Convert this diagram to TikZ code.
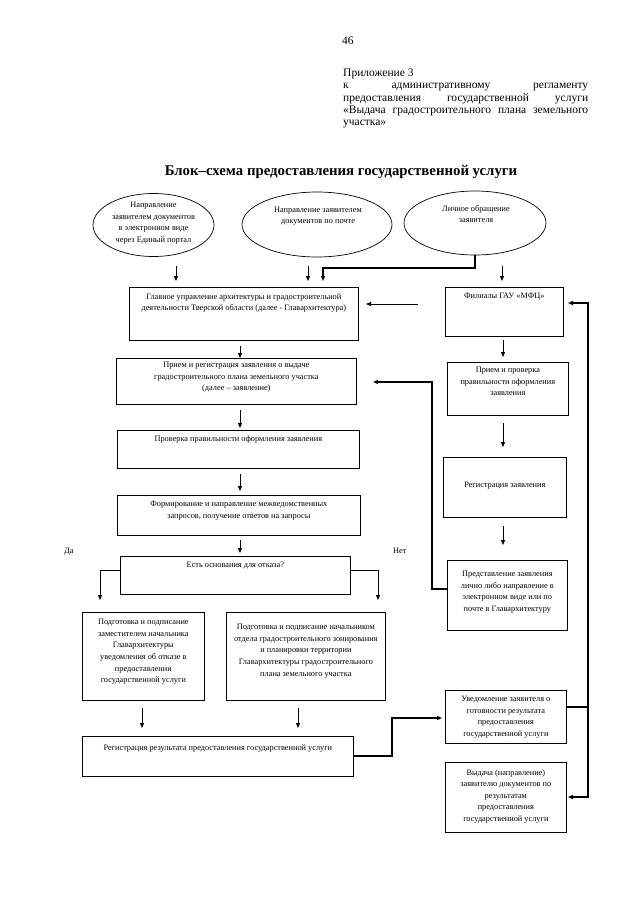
\documentclass[tikz,border=0pt]{standalone}
\usepackage{fontspec}
\setmainfont{Liberation Serif}
\usetikzlibrary{shapes.geometric,arrows.meta}
\newcommand{\bx}[4]{\parbox[t][#2pt][t]{#1pt}{\vspace*{#3pt}\centering\fontsize{8.3}{11.6}\selectfont #4\par}}
\newcommand{\hdr}{\fontsize{11.5}{12.3}\selectfont}
\begin{document}
\begin{tikzpicture}[x=1pt,y=-1pt,
  box/.style={draw, line width=0.7pt, inner sep=0pt, anchor=north west},
  ell/.style={draw, ellipse, line width=0.7pt, inner sep=0pt},
  txt/.style={inner sep=0pt, align=center, font=\fontsize{8.3}{11.6}\selectfont},
  hd/.style={inner sep=0pt, anchor=base west, font=\hdr},
  arr/.style={line width=0.8pt, -{Triangle[length=5pt,width=4pt]}},
  conn/.style={line width=1.2pt, -{Triangle[length=5pt,width=4pt]}},
  plainline/.style={line width=1.2pt}
  ]
\useasboundingbox[fill=white] (0,0) rectangle (640,905);

% header
\node[hd] (pg) at (342,44) {46};
\node[hd] (ap1) at (343,76) {Приложение 3};
\node[hd] (ap2) at (343,88) {\makebox[245pt][s]{к административному регламенту}};
\node[hd] (ap3) at (343,101) {\makebox[245pt][s]{предоставления государственной услуги}};
\node[hd] (ap4) at (343,113) {\makebox[245pt][s]{«Выдача градостроительного плана земельного}};
\node[hd] (ap5) at (343,125) {участка»};

\node[inner sep=0pt, anchor=base, font=\bfseries\fontsize{14.8}{16}\selectfont] (title) at (341,175) {Блок–схема предоставления государственной услуги};

% ellipses
\node[ell, minimum width=121pt, minimum height=63pt] (E1) at (153.5,225) {};
\node[txt] (E1t) at (153.5,223) {Направление\\заявителем документов\\в электронном виде\\через Единый портал};
\node[ell, minimum width=150pt, minimum height=65pt] (E2) at (317,224.5) {};
\node[txt] (E2t) at (318,216) {Направление заявителем\\документов по почте};
\node[ell, minimum width=142pt, minimum height=64pt] (E3) at (475,223) {};
\node[txt] (E3t) at (476,214) {Личное обращение\\заявителя};

% left column
\node[box] (G) at (129,287) {\bx{229}{53}{6}{Главное управление архитектуры и градостроительной\\деятельности Тверской области (далее - Главархитектура)}};
\node[box] (R1) at (116,358) {\bx{240}{46}{4}{Прием и регистрация заявления о выдаче\\градостроительного плана земельного участка\\(далее – заявление)}};
\node[box] (P) at (117,430) {\bx{242}{38}{5}{Проверка правильности оформления заявления}};
\node[box] (Fm) at (117,495) {\bx{243}{40}{6}{Формирование и направление межведомственных\\запросов, получение ответов на запросы}};
\node[box] (Q) at (120,556) {\bx{230}{38}{6}{Есть основания для отказа?}};
\node[box] (L) at (82,612) {\bx{122}{88}{7}{Подготовка и подписание\\заместителем начальника\\Главархитектуры\\уведомления об отказе в\\предоставлении\\государственной услуги}};
\node[box] (Rb) at (226,612) {\bx{159}{88}{12}{Подготовка и подписание начальником\\отдела градостроительного зонирования\\и планировки территории\\Главархитектуры градостроительного\\плана земельного участка}};
\node[box] (RR) at (82,736) {\bx{271}{40}{8}{Регистрация результата предоставления государственной услуги}};

\node[txt, anchor=base west] (da) at (64,553) {Да};
\node[txt, anchor=base west] (net) at (393,553) {Нет};

% right column
\node[box] (F) at (445,287) {\bx{118}{49}{6}{Филиалы ГАУ «МФЦ»}};
\node[box] (PP) at (447,362) {\bx{121}{53}{5}{Прием и проверка\\правильности оформления\\заявления}};
\node[box] (Rg) at (443,457) {\bx{123}{60}{25}{Регистрация заявления}};
\node[box] (Pr) at (447,560) {\bx{120}{70}{11}{Представление заявления\\лично либо направление в\\электронном виде или по\\почте в Главархитектуру}};
\node[box] (U) at (445,690) {\bx{121}{53}{6}{Уведомление заявителя о\\готовности результата\\предоставления\\государственной услуги}};
\node[box] (V) at (445,762) {\bx{121}{70}{7}{Выдача (направление)\\заявителю документов по\\результатам\\предоставления\\государственной услуги}};

% coordinates for free arrow ends
\coordinate (a1s) at (176,266); \coordinate (a1e) at (176,281);
\coordinate (a2s) at (308,266); \coordinate (a2e) at (308,281);
\coordinate (a3s) at (502,266); \coordinate (a3e) at (502,281);
\coordinate (c3m) at (475,268); \coordinate (c3e) at (323,281);
\coordinate (fgs) at (418,304); \coordinate (fge) at (366,304);
\coordinate (g1s) at (240,346); \coordinate (g1e) at (240,358);
\coordinate (r1s) at (240,410); \coordinate (r1e) at (240,428);
\coordinate (p1s) at (240,474); \coordinate (p1e) at (240,491);
\coordinate (f1s) at (240,540); \coordinate (f1e) at (240,553);
\coordinate (qL) at (120,570); \coordinate (qLe) at (100,600);
\coordinate (qR) at (350,570); \coordinate (qRe) at (378,600);
\coordinate (l1s) at (142,708); \coordinate (l1e) at (142,728);
\coordinate (b1s) at (298,708); \coordinate (b1e) at (298,728);
\coordinate (m1s) at (503,340); \coordinate (m1e) at (503,357);
\coordinate (m2s) at (503,423); \coordinate (m2e) at (503,447);
\coordinate (m3s) at (503,526); \coordinate (m3e) at (503,545);
\coordinate (prL) at (447,589); \coordinate (r1a) at (373,382);
\coordinate (rrR) at (354,756); \coordinate (uL) at (442,718);
\coordinate (uR) at (566,707); \coordinate (rj) at (588,707);
\coordinate (fR) at (568,303); \coordinate (vR) at (568,797);

% arrows
\draw[arr] (a1s) -- (a1e);
\draw[arr] (a2s) -- (a2e);
\draw[arr] (a3s) -- (a3e);
\draw[conn] (E3.south) -- (c3m) -| (c3e);
\draw[arr] (fgs) -- (fge);
\draw[arr] (g1s) -- (g1e);
\draw[arr] (r1s) -- (r1e);
\draw[arr] (p1s) -- (p1e);
\draw[arr] (f1s) -- (f1e);
\draw[arr] (qL) -| (qLe);
\draw[arr] (qR) -| (qRe);
\draw[arr] (l1s) -- (l1e);
\draw[arr] (b1s) -- (b1e);
\draw[arr] (m1s) -- (m1e);
\draw[arr] (m2s) -- (m2e);
\draw[arr] (m3s) -- (m3e);
\draw[conn] (prL) -- (432,589) |- (r1a);
\draw[conn] (rrR) -- (392,756) |- (uL);
\draw[plainline] (uR) -- (rj);
\draw[conn] (rj) |- (fR);
\draw[conn] (rj) |- (vR);
\end{tikzpicture}
\end{document}
